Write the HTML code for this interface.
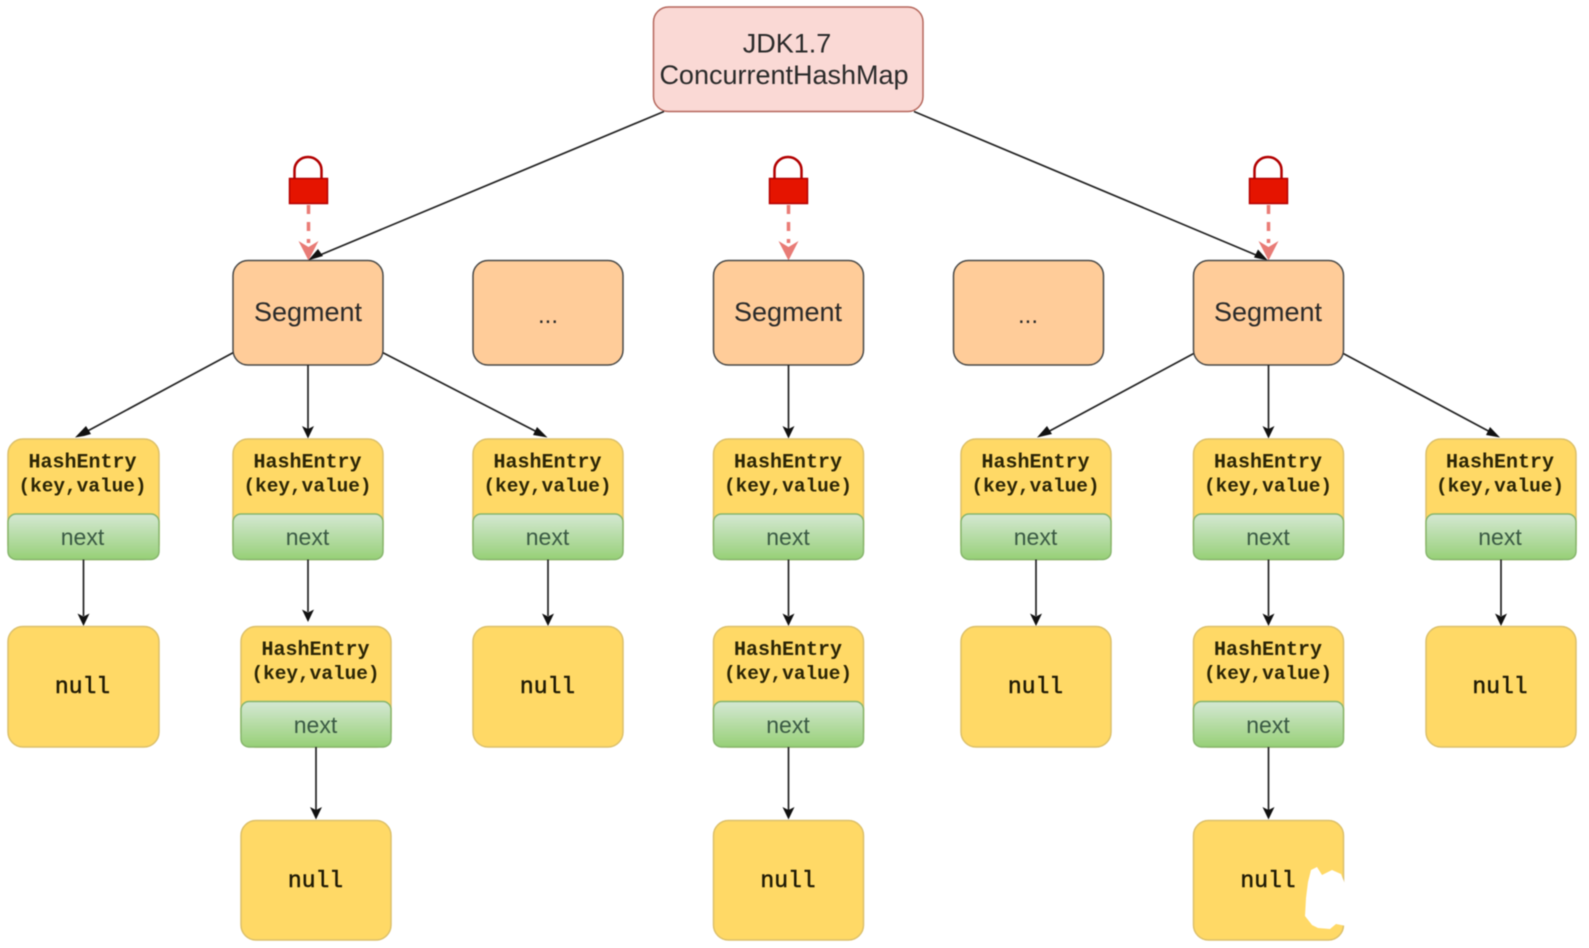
<!DOCTYPE html>
<html><head><meta charset="utf-8"><style>
html,body{margin:0;padding:0;background:#fff;width:1589px;height:948px;overflow:hidden}
svg{display:block;filter:blur(0.6px)}
.s{font-family:"Liberation Sans",sans-serif;text-anchor:middle;fill:#2a2a2a}
.b{font-size:27px}
.n{font-size:23px;fill:#3a5a44}
.m{font-family:"Liberation Mono",monospace;font-weight:bold;text-anchor:middle;fill:#2b2505;font-size:20px}
.v{font-size:19.4px}
.w{font-family:"Liberation Mono",monospace;text-anchor:middle;fill:#1f1b05;font-size:23px;stroke:#1f1b05;stroke-width:.5}
.u{font-size:24px}
.y{fill:#ffd966;stroke:#dcc06a;stroke-width:1.5}
.g{fill:url(#gr);stroke:#86b56c;stroke-width:1.5}
.o{fill:#ffcc99;stroke:#4a4a48;stroke-width:1.5}
.l{stroke:#222;stroke-width:1.7;fill:none}
.a{fill:#111}
.d{stroke:#ea7b76;stroke-width:3.5;stroke-dasharray:9 8;fill:none}
.r{fill:#e87b76}
.k{fill:#e51400;stroke:#b20000;stroke-width:1.5}
.h{fill:none;stroke:#b20000;stroke-width:2.5}
</style></head><body>
<svg width="1589" height="948" viewBox="0 0 1589 948" xmlns="http://www.w3.org/2000/svg">
<defs><linearGradient id="gr" x1="0" y1="0" x2="0" y2="1"><stop offset="0" stop-color="#d5e8d4"/><stop offset="1" stop-color="#97d077"/></linearGradient></defs>
<!-- top -->
<rect x="653.5" y="7" width="269.5" height="104.5" rx="15" fill="#fad9d5" stroke="#b5675c" stroke-width="1.5"/>
<text class="s b" x="787" y="52.5">JDK1.7</text>
<text class="s b" x="784" y="84">ConcurrentHashMap</text>

<!-- connectors top -->
<path class="l" d="M664 111.5L314 257.5M914 111.5L1262 257.5"/>
<path class="a" d="M308 260.5L318 249L323 256Z"/>
<path class="a" d="M1268 260.5L1254 257.5L1258 249.5Z"/>

<!-- locks -->
<path class="h" d="M294.5 178V170A13.5 13 0 0 1 321.5 170V178"/><rect class="k" x="289.5" y="178.5" width="38" height="25"/>
<path class="d" d="M308.5 205V243"/><path class="r" d="M298.5 241L308.5 247L318.5 241L308.5 260.5Z"/>
<path class="h" d="M774.5 170A13.5 13 0 0 1 801.5 170V178M774.5 178V170"/><rect class="k" x="769.5" y="178.5" width="38" height="25"/>
<path class="d" d="M788.5 205V243"/><path class="r" d="M778.5 241L788.5 247L798.5 241L788.5 260.5Z"/>
<path class="h" d="M1254.5 178V170A13.5 13 0 0 1 1281.5 170V178"/><rect class="k" x="1249.5" y="178.5" width="38" height="25"/>
<path class="d" d="M1268.5 205V243"/><path class="r" d="M1258.5 241L1268.5 247L1278.5 241L1268.5 260.5Z"/>

<!-- segments -->
<rect class="o" x="233" y="260.5" width="150" height="104.5" rx="15"/><text class="s b" x="308" y="321">Segment</text>
<rect class="o" x="473" y="260.5" width="150" height="104.5" rx="15"/><text class="s u" x="548" y="323">...</text>
<rect class="o" x="713.5" y="260.5" width="150" height="104.5" rx="15"/><text class="s b" x="788" y="321">Segment</text>
<rect class="o" x="953.5" y="260.5" width="150" height="104.5" rx="15"/><text class="s u" x="1028" y="323">...</text>
<rect class="o" x="1193.5" y="260.5" width="150" height="104.5" rx="15"/><text class="s b" x="1268" y="321">Segment</text>

<!-- segment to entry -->
<path class="l" d="M233 352.7L82 434M308 365V429M383 352.7L541 434M788.5 365V429M1193.5 353.6L1044 434M1268.5 365V429M1343.5 353.6L1494 434"/>
<path class="a" d="M75 437.5L86 426L91 434L84 436Z"/>
<path class="a" d="M302 426L308 429L314 426L308 438.5Z"/>
<path class="a" d="M782.5 426L788.5 429L794.5 426L788.5 438.5Z"/>
<path class="a" d="M1262.5 426L1268.5 429L1274.5 426L1268.5 438.5Z"/>
<path class="a" d="M547.5 437.5L533 435L537 427Z"/>
<path class="a" d="M1037 437.5L1047 426L1052 434Z"/>
<path class="a" d="M1500 437.5L1486 435L1490 427Z"/>

<!-- row 1 entries -->
<rect class="y" x="8" y="439" width="151" height="120.5" rx="15"/><rect class="g" x="8" y="514" width="151" height="45.5" rx="8"/>
<text class="m" x="82.5" y="467.5">HashEntry</text><text class="m v" x="82.5" y="491.5">(key,value)</text><text class="s n" x="82.5" y="545">next</text>
<rect class="y" x="233" y="439" width="150" height="120.5" rx="15"/><rect class="g" x="233" y="514" width="150" height="45.5" rx="8"/>
<text class="m" x="307.5" y="467.5">HashEntry</text><text class="m v" x="307.5" y="491.5">(key,value)</text><text class="s n" x="307.5" y="545">next</text>
<rect class="y" x="473" y="439" width="150" height="120.5" rx="15"/><rect class="g" x="473" y="514" width="150" height="45.5" rx="8"/>
<text class="m" x="547.5" y="467.5">HashEntry</text><text class="m v" x="547.5" y="491.5">(key,value)</text><text class="s n" x="547.5" y="545">next</text>
<rect class="y" x="713.5" y="439" width="150" height="120.5" rx="15"/><rect class="g" x="713.5" y="514" width="150" height="45.5" rx="8"/>
<text class="m" x="788" y="467.5">HashEntry</text><text class="m v" x="788" y="491.5">(key,value)</text><text class="s n" x="788" y="545">next</text>
<rect class="y" x="961" y="439" width="150" height="120.5" rx="15"/><rect class="g" x="961" y="514" width="150" height="45.5" rx="8"/>
<text class="m" x="1035.5" y="467.5">HashEntry</text><text class="m v" x="1035.5" y="491.5">(key,value)</text><text class="s n" x="1035.5" y="545">next</text>
<rect class="y" x="1193.5" y="439" width="150" height="120.5" rx="15"/><rect class="g" x="1193.5" y="514" width="150" height="45.5" rx="8"/>
<text class="m" x="1268" y="467.5">HashEntry</text><text class="m v" x="1268" y="491.5">(key,value)</text><text class="s n" x="1268" y="545">next</text>
<rect class="y" x="1426" y="439" width="150" height="120.5" rx="15"/><rect class="g" x="1426" y="514" width="150" height="45.5" rx="8"/>
<text class="m" x="1500" y="467.5">HashEntry</text><text class="m v" x="1500" y="491.5">(key,value)</text><text class="s n" x="1500" y="545">next</text>

<!-- row 1 arrows -->
<path class="l" d="M83.5 559.5V616M308 559.5V612M548 559.5V616M788.5 559.5V616M1036 559.5V616M1268.5 559.5V616M1501 559.5V616"/>
<path class="a" d="M77.5 613.5L83.5 616.5L89.5 613.5L83.5 626Z"/>
<path class="a" d="M302 609.5L308 612.5L314 609.5L308 622Z"/>
<path class="a" d="M542 613.5L548 616.5L554 613.5L548 626Z"/>
<path class="a" d="M782.5 613.5L788.5 616.5L794.5 613.5L788.5 626Z"/>
<path class="a" d="M1030 613.5L1036 616.5L1042 613.5L1036 626Z"/>
<path class="a" d="M1262.5 613.5L1268.5 616.5L1274.5 613.5L1268.5 626Z"/>
<path class="a" d="M1495 613.5L1501 616.5L1507 613.5L1501 626Z"/>

<!-- row 2 -->
<rect class="y" x="8" y="626.5" width="151" height="120.5" rx="15"/><text class="w" x="82.5" y="693">null</text>
<rect class="y" x="241" y="626.5" width="150" height="120.5" rx="15"/><rect class="g" x="241" y="701.5" width="150" height="45.5" rx="8"/>
<text class="m" x="315.5" y="655">HashEntry</text><text class="m v" x="315.5" y="679">(key,value)</text><text class="s n" x="315.5" y="733">next</text>
<rect class="y" x="473" y="626.5" width="150" height="120.5" rx="15"/><text class="w" x="547.5" y="693">null</text>
<rect class="y" x="713.5" y="626.5" width="150" height="120.5" rx="15"/><rect class="g" x="713.5" y="701.5" width="150" height="45.5" rx="8"/>
<text class="m" x="788" y="655">HashEntry</text><text class="m v" x="788" y="679">(key,value)</text><text class="s n" x="788" y="733">next</text>
<rect class="y" x="961" y="626.5" width="150" height="120.5" rx="15"/><text class="w" x="1035.5" y="693">null</text>
<rect class="y" x="1193.5" y="626.5" width="150" height="120.5" rx="15"/><rect class="g" x="1193.5" y="701.5" width="150" height="45.5" rx="8"/>
<text class="m" x="1268" y="655">HashEntry</text><text class="m v" x="1268" y="679">(key,value)</text><text class="s n" x="1268" y="733">next</text>
<rect class="y" x="1426" y="626.5" width="150" height="120.5" rx="15"/><text class="w" x="1500" y="693">null</text>

<!-- row 2 arrows -->
<path class="l" d="M316 747V810M788.5 747V810M1268.5 747V810"/>
<path class="a" d="M310 807L316 810L322 807L316 819.5Z"/>
<path class="a" d="M782.5 807L788.5 810L794.5 807L788.5 819.5Z"/>
<path class="a" d="M1262.5 807L1268.5 810L1274.5 807L1268.5 819.5Z"/>

<!-- row 3 -->
<rect class="y" x="241" y="820.5" width="150" height="119.5" rx="15"/><text class="w" x="315.5" y="887">null</text>
<rect class="y" x="713.5" y="820.5" width="150" height="119.5" rx="15"/><text class="w" x="788" y="887">null</text>
<rect class="y" x="1193.5" y="820.5" width="150" height="119.5" rx="15"/><text class="w" x="1268" y="887">null</text>

<!-- white smudge -->
<path fill="#fff" d="M1308 882L1311 870L1317 867L1322 875L1332 870L1341 874L1345 884L1354 888L1354 922L1346 926L1336 924L1330 929L1318 928L1312 925L1305 916L1306 898Z"/>
</svg>
</body></html>
